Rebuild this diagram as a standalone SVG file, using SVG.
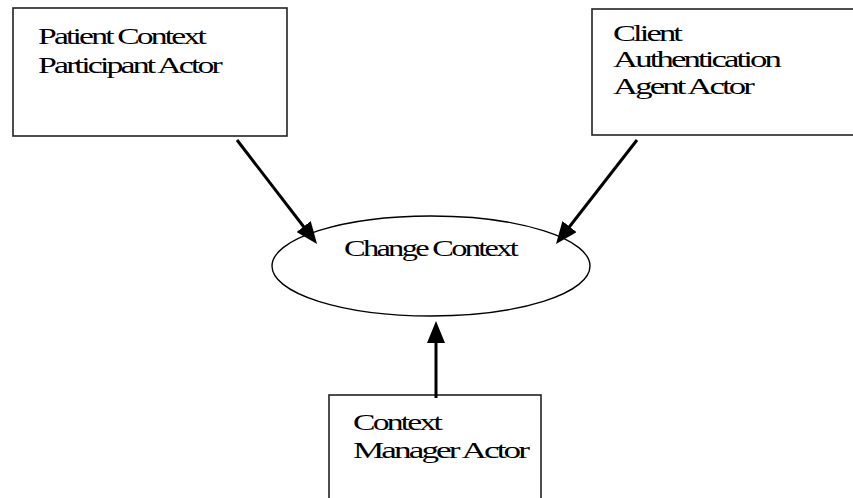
<svg xmlns="http://www.w3.org/2000/svg" width="853" height="498" viewBox="0 0 853 498">
  <defs>
    <style>
      .box { fill: #ffffff; stroke: #222222; stroke-width: 1.6; }
      .oval { fill: #ffffff; stroke: #000000; stroke-width: 1.4; }
      .lbl { font-family: "Liberation Serif", "Times New Roman", serif; font-size: 24px; fill: #000000; letter-spacing: -2px; }
      .conn { stroke: #000000; stroke-width: 3; fill: none; marker-end: url(#arrow); }
    </style>
    <marker id="arrow" viewBox="0 0 22 18" refX="10" refY="9" markerWidth="22" markerHeight="18" markerUnits="userSpaceOnUse" orient="auto">
      <path d="M0,0 L22,9 L0,18 Z" fill="#000000"/>
    </marker>
  </defs>
  <rect width="853" height="498" fill="#ffffff"/>

  <g id="patient-context-participant">
    <rect class="box" x="13" y="8" width="274" height="128"/>
    <text class="lbl" x="38" y="44" textLength="166" lengthAdjust="spacingAndGlyphs">Patient Context</text>
    <text class="lbl" x="38" y="73" textLength="182" lengthAdjust="spacingAndGlyphs">Participant Actor</text>
  </g>

  <g id="client-authentication-agent">
    <rect class="box" x="592" y="9" width="280" height="126"/>
    <text class="lbl" x="613" y="41" textLength="67" lengthAdjust="spacingAndGlyphs">Client</text>
    <text class="lbl" x="613" y="67" textLength="166" lengthAdjust="spacingAndGlyphs">Authentication</text>
    <text class="lbl" x="613" y="94" textLength="139" lengthAdjust="spacingAndGlyphs">Agent Actor</text>
  </g>

  <g id="change-context">
    <ellipse class="oval" cx="431" cy="266" rx="159" ry="50"/>
    <text class="lbl" x="344" y="256" textLength="172" lengthAdjust="spacingAndGlyphs">Change Context</text>
  </g>

  <g id="context-manager">
    <rect class="box" x="329" y="395" width="212" height="120"/>
    <text class="lbl" x="353" y="430" textLength="87" lengthAdjust="spacingAndGlyphs">Context</text>
    <text class="lbl" x="353" y="458" textLength="174" lengthAdjust="spacingAndGlyphs">Manager Actor</text>
  </g>

  <g id="connectors">
    <line class="conn" x1="237" y1="140" x2="309.7" y2="234.5"/>
    <line class="conn" x1="637" y1="140" x2="563.4" y2="234.5"/>
    <line class="conn" x1="436" y1="398" x2="436" y2="333"/>
  </g>
</svg>
